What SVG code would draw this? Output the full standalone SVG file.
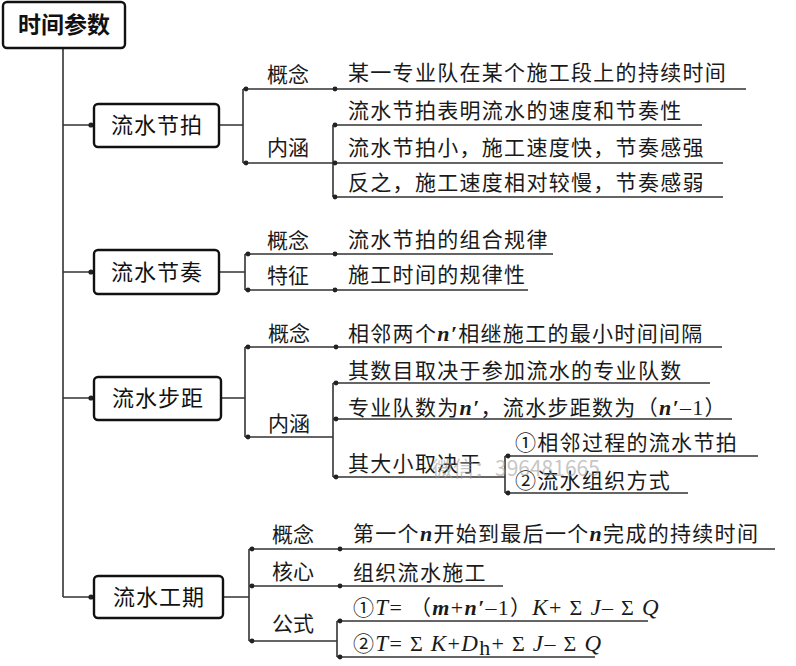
<svg xmlns="http://www.w3.org/2000/svg" width="796" height="666" viewBox="0 0 796 666">
<defs>
<style>
.bg{fill:#fff}
.box{fill:#fff;stroke:#111;stroke-width:2.4}
.ln{fill:none;stroke:#333;stroke-width:1.6}
.dot{fill:#222}
.t{font-family:"Noto Sans CJK SC","Noto Sans",sans-serif;font-size:21px;fill:#1a1a1a;letter-spacing:1.3px}
.lb{font-family:"Noto Sans CJK SC","Noto Sans",sans-serif;font-size:21px;fill:#1a1a1a;text-anchor:middle}
.bt{font-family:"Noto Sans CJK SC","Noto Sans",sans-serif;font-size:22px;fill:#111;text-anchor:middle;letter-spacing:1px}
.root{font-family:"Noto Sans CJK SC","Noto Sans",sans-serif;font-size:23px;font-weight:bold;fill:#111;text-anchor:middle}
.i{font-family:"Liberation Serif",serif;font-style:italic;font-size:23px}
.ib{font-family:"Liberation Serif",serif;font-style:italic;font-weight:bold;font-size:22px}
.s{font-family:"Liberation Serif",serif;font-size:22px}
.wm{font-family:"Noto Sans CJK SC","Liberation Sans",sans-serif;font-size:21px;fill:#999;opacity:0.55}
</style>
</defs>
<rect class="bg" x="0" y="0" width="796" height="666"/>

<g id="connectors">
<path class="ln" d="M63 48 V597 M63 125 H94 M63 272 H94 M63 398 H94 M63 597 H94"/>
<circle class="dot" cx="91" cy="125" r="2.6"/>
<circle class="dot" cx="91" cy="272" r="2.6"/>
<circle class="dot" cx="91" cy="398" r="2.6"/>
<circle class="dot" cx="91" cy="597" r="2.6"/>
<path class="ln" d="M219 125 H243 M243 89 V163 M243 89 H746 M243 163 H723 M333 125 V197 M333 125 H702 M333 197 H723"/>
<circle class="dot" cx="246" cy="89" r="2.4"/><circle class="dot" cx="335" cy="89" r="2.4"/>
<circle class="dot" cx="246" cy="163" r="2.4"/><circle class="dot" cx="335" cy="163" r="2.4"/>
<circle class="dot" cx="335" cy="125" r="2.4"/><circle class="dot" cx="335" cy="197" r="2.4"/>
<path class="ln" d="M219 272 H245 M245 254 V290 M245 254 H553 M245 290 H528"/>
<circle class="dot" cx="248" cy="254" r="2.4"/><circle class="dot" cx="335" cy="254" r="2.4"/>
<circle class="dot" cx="248" cy="290" r="2.4"/><circle class="dot" cx="335" cy="290" r="2.4"/>
<path class="ln" d="M221 398 H245 M245 347 V437 M245 347 H722 M245 437 H333 M333 383 V477 M333 383 H710 M333 419 H732 M333 477 H505 M505 456 V493 M505 456 H758 M505 493 H688"/>
<circle class="dot" cx="248" cy="347" r="2.4"/><circle class="dot" cx="336" cy="347" r="2.4"/>
<circle class="dot" cx="248" cy="437" r="2.4"/>
<circle class="dot" cx="336" cy="383" r="2.4"/><circle class="dot" cx="336" cy="419" r="2.4"/><circle class="dot" cx="336" cy="477" r="2.4"/>
<circle class="dot" cx="508" cy="456" r="2.4"/><circle class="dot" cx="508" cy="493" r="2.4"/>
<path class="ln" d="M223 597 H249 M249 549 V641 M249 549 H775 M249 586 H503 M249 641 H337 M337 621 V657 M337 621 H648 M337 657 H595"/>
<circle class="dot" cx="252" cy="549" r="2.4"/><circle class="dot" cx="340" cy="549" r="2.4"/>
<circle class="dot" cx="252" cy="586" r="2.4"/><circle class="dot" cx="340" cy="586" r="2.4"/>
<circle class="dot" cx="252" cy="641" r="2.4"/>
<circle class="dot" cx="340" cy="621" r="2.4"/><circle class="dot" cx="340" cy="657" r="2.4"/>
</g>

<g id="root">
<rect class="box" x="3" y="2" width="122" height="46" rx="4"/>
<text class="root" x="64" y="33">时间参数</text>
</g>

<g id="node-jiepai">
<rect class="box" x="94" y="104" width="125" height="43" rx="4"/>
<text class="bt" x="157" y="133">流水节拍</text>
</g>
<g id="node-jiepai-items">
<text class="lb" x="288" y="82">概念</text>
<text class="lb" x="288" y="155">内涵</text>
<text class="t" x="348" y="80">某一专业队在某个施工段上的持续时间</text>
<text class="t" x="348" y="118">流水节拍表明流水的速度和节奏性</text>
<text class="t" x="348" y="155">流水节拍小，施工速度快，节奏感强</text>
<text class="t" x="348" y="190">反之，施工速度相对较慢，节奏感弱</text>
</g>

<g id="node-jiezou">
<rect class="box" x="94" y="250" width="125" height="44" rx="4"/>
<text class="bt" x="157" y="280">流水节奏</text>
</g>
<g id="node-jiezou-items">
<text class="lb" x="288" y="248">概念</text>
<text class="lb" x="288" y="283">特征</text>
<text class="t" x="348" y="247">流水节拍的组合规律</text>
<text class="t" x="348" y="282">施工时间的规律性</text>
</g>

<g id="node-buju">
<rect class="box" x="94" y="377" width="127" height="43" rx="4"/>
<text class="bt" x="158" y="406">流水步距</text>
</g>
<g id="node-buju-items">
<text class="lb" x="289" y="341">概念</text>
<text class="lb" x="289" y="431">内涵</text>
<text class="t" x="348" y="341">相邻两个<tspan class="ib">n′</tspan>相继施工的最小时间间隔</text>
<text class="t" x="348" y="378">其数目取决于参加流水的专业队数</text>
<text class="t" x="348" y="415">专业队数为<tspan class="ib">n′</tspan>，流水步距数为（<tspan class="ib">n′</tspan><tspan class="s">–1</tspan>）</text>
<text class="t" x="348" y="471">其大小取决于</text>
<text class="t" x="515" y="450">①相邻过程的流水节拍</text>
<text class="t" x="515" y="488">②流水组织方式</text>
</g>

<g id="node-gongqi">
<rect class="box" x="94" y="576" width="129" height="42" rx="4"/>
<text class="bt" x="159" y="605">流水工期</text>
</g>
<g id="node-gongqi-items">
<text class="lb" x="293" y="542">概念</text>
<text class="lb" x="293" y="579">核心</text>
<text class="lb" x="293" y="631">公式</text>
<text class="t" x="353" y="541">第一个<tspan class="ib">n</tspan>开始到最后一个<tspan class="ib">n</tspan>完成的持续时间</text>
<text class="t" x="353" y="580">组织流水施工</text>
<text class="t" x="353" y="615">①<tspan class="i">T</tspan><tspan class="s">= </tspan>（<tspan class="ib">m</tspan><tspan class="s">+</tspan><tspan class="ib">n′</tspan><tspan class="s">–1</tspan>）<tspan class="i">K</tspan><tspan class="s">+ Σ </tspan><tspan class="i">J</tspan><tspan class="s">– Σ </tspan><tspan class="i">Q</tspan></text>
<text class="t" x="353" y="651">②<tspan class="i">T</tspan><tspan class="s">= Σ </tspan><tspan class="i">K</tspan><tspan class="s">+</tspan><tspan class="i">D</tspan><tspan class="s" font-size="14" dy="4">h</tspan><tspan class="s" dy="-4">+ Σ </tspan><tspan class="i">J</tspan><tspan class="s">– Σ </tspan><tspan class="i">Q</tspan></text>
</g>

<g id="watermark">
<text class="wm" x="432" y="476">微信：396481665</text>
</g>
</svg>
